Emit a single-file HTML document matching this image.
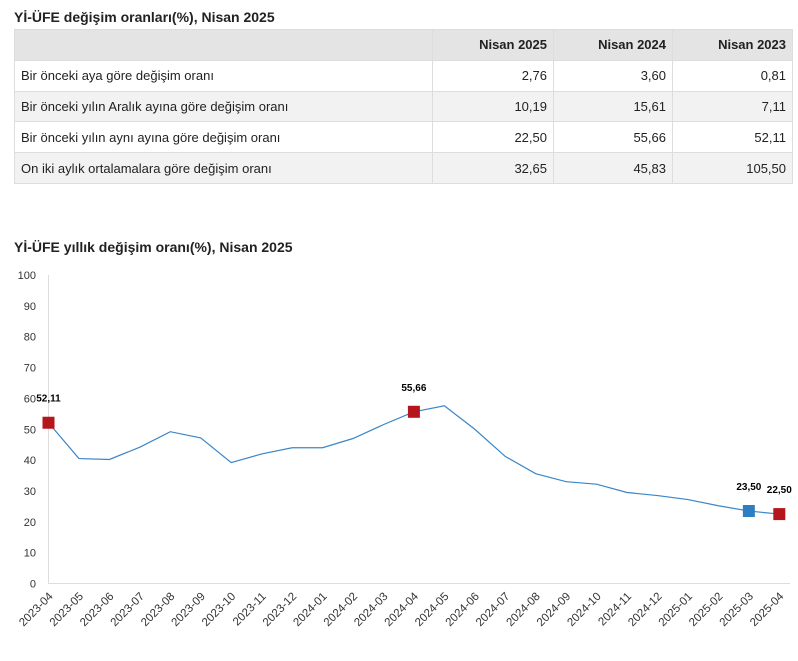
<!DOCTYPE html>
<html><head><meta charset="utf-8"><style>
body{margin:0;width:798px;height:661px;background:#fff;font-family:"Liberation Sans",sans-serif;color:#222;position:relative;overflow:hidden}
.t{position:absolute;left:14px;font-weight:bold;font-size:14px}
table{position:absolute;left:14px;top:29px;border-collapse:collapse;font-size:13px;table-layout:fixed;width:778px}
td{border:1px solid #ddd;height:29.8px;padding:0 6px}
td.n{text-align:right}
tr.h td{background:#e4e4e4;font-weight:bold}
tr.g td{background:#f2f2f2}
</style></head><body>
<div class="t" style="top:9px">Yİ-ÜFE değişim oranları(%), Nisan 2025</div>
<table>
<colgroup><col style="width:418px"><col style="width:121px"><col style="width:119px"><col style="width:120px"></colgroup>
<tr class="h"><td></td><td class="n">Nisan 2025</td><td class="n">Nisan 2024</td><td class="n">Nisan 2023</td></tr>
<tr><td>Bir önceki aya göre değişim oranı</td><td class="n">2,76</td><td class="n">3,60</td><td class="n">0,81</td></tr>
<tr class="g"><td>Bir önceki yılın Aralık ayına göre değişim oranı</td><td class="n">10,19</td><td class="n">15,61</td><td class="n">7,11</td></tr>
<tr><td>Bir önceki yılın aynı ayına göre değişim oranı</td><td class="n">22,50</td><td class="n">55,66</td><td class="n">52,11</td></tr>
<tr class="g"><td>On iki aylık ortalamalara göre değişim oranı</td><td class="n">32,65</td><td class="n">45,83</td><td class="n">105,50</td></tr>
</table>
<div class="t" style="top:239px">Yİ-ÜFE yıllık değişim oranı(%), Nisan 2025</div>
<svg id="c" width="798" height="661" style="position:absolute;left:0;top:0" font-family="Liberation Sans, sans-serif"></svg>
<script>
var s=document.getElementById('c'),h='';
var v=[52.11,40.5,40.2,44.2,49.2,47.2,39.2,42,44,44,47,51.5,55.66,57.6,50,41.2,35.6,33,32.2,29.5,28.5,27.2,25.2,23.5,22.5];
function X(i){return 48.5+i*30.45}function Y(a){return 583.5-a*3.085}
h+='<line x1="48.5" y1="275" x2="48.5" y2="584" stroke="#ddd"/><line x1="48" y1="583.5" x2="790" y2="583.5" stroke="#ddd"/>';
for(var k=0;k<=10;k++)h+='<text x="36" y="'+(Y(k*10)+4)+'" font-size="11" fill="#333" text-anchor="end">'+k*10+'</text>';
var p='';v.forEach(function(a,i){p+=(i?'L':'M')+X(i)+' '+Y(a);
var y=2023,m=4+i;while(m>12){m-=12;y++}var l=y+'-'+(m<10?'0':'')+m;
h+='<text transform="translate('+(X(i)+5)+',597) rotate(-45)" font-size="11.5" fill="#333" text-anchor="end">'+l+'</text>';});
h+='<path d="'+p+'" fill="none" stroke="#3a86c8" stroke-width="1.2"/>';
[[0,'#b5161c','52,11'],[12,'#b5161c','55,66'],[23,'#2e7fc1','23,50'],[24,'#b5161c','22,50']].forEach(function(q){var x=X(q[0]),y=Y(v[q[0]]);
h+='<rect x="'+(x-6)+'" y="'+(y-6)+'" width="12" height="12" fill="'+q[1]+'"/><text x="'+x+'" y="'+(y-21)+'" font-size="10" font-weight="bold" text-anchor="middle">'+q[2]+'</text>';});
s.innerHTML=h;
</script>
</body></html>
